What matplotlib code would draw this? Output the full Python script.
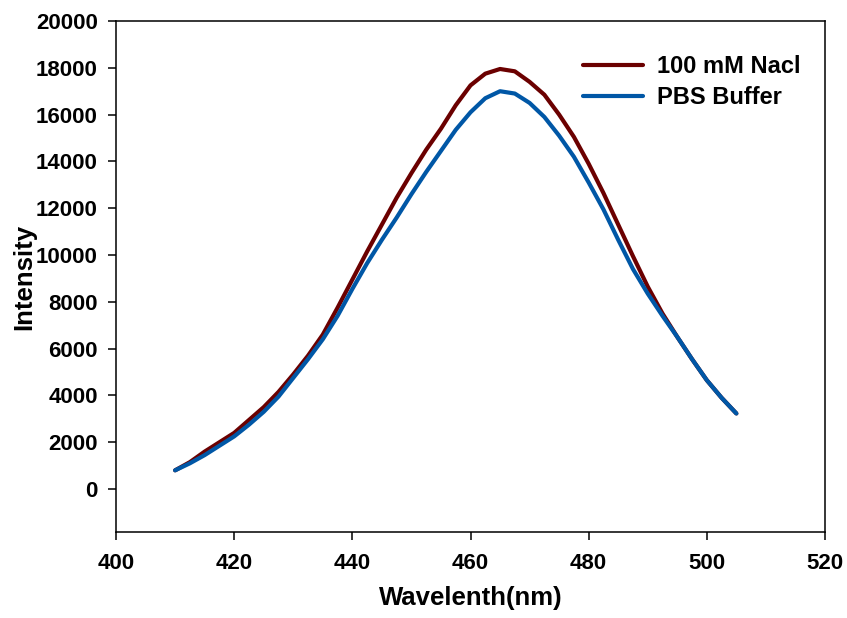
import numpy as np
import matplotlib
matplotlib.use("Agg")
import matplotlib.pyplot as plt

plt.rcParams['font.family'] = ['Liberation Sans', 'DejaVu Sans']
plt.rcParams['font.weight'] = 'bold'

# Emission spectra
wavelength = [410, 412.5, 415, 417.5, 420, 422.5, 425, 427.5, 430, 432.5, 435, 437.5,
              440, 442.5, 445, 447.5, 450, 452.5, 455, 457.5, 460, 462.5, 465, 467.5,
              470, 472.5, 475, 477.5, 480, 482.5, 485, 487.5, 490, 492.5, 495, 497.5,
              500, 502.5, 505]
nacl = [800, 1150, 1600, 2000, 2400, 2950, 3500, 4150, 4900, 5700, 6600, 7750,
        8950, 10150, 11300, 12450, 13500, 14500, 15400, 16400, 17250, 17750, 17950, 17850,
        17400, 16850, 16000, 15050, 13900, 12650, 11300, 9950, 8650, 7500, 6500, 5550,
        4650, 3900, 3230]
pbs = [800, 1100, 1450, 1850, 2250, 2750, 3300, 3950, 4750, 5550, 6400, 7400,
       8550, 9650, 10650, 11600, 12600, 13550, 14450, 15350, 16100, 16700, 17000, 16900,
       16500, 15900, 15100, 14200, 13100, 11950, 10650, 9400, 8350, 7400, 6500, 5550,
       4650, 3900, 3230]

fig = plt.figure(figsize=(8.47, 6.18), dpi=100)
ax = fig.add_axes([0.137, 0.139, 0.837, 0.827])

ax.plot(wavelength, nacl, color='#6b0000', lw=3, label='100 mM Nacl',
        solid_capstyle='round', solid_joinstyle='round')
ax.plot(wavelength, pbs, color='#0057a6', lw=3, label='PBS Buffer',
        solid_capstyle='round', solid_joinstyle='round')

ax.set_xlim(400, 520)
ax.set_ylim(-1840, 20000)
ax.set_xticks(np.arange(400, 521, 20))
ax.set_yticks(np.arange(0, 20001, 2000))
ax.tick_params(direction='out', length=6, width=1.1, labelsize=16,
               top=False, right=False)
ax.tick_params(axis='x', pad=9)
ax.tick_params(axis='y', pad=7)
for lbl in ax.get_xticklabels() + ax.get_yticklabels():
    lbl.set_fontweight('bold')
for s in ax.spines.values():
    s.set_linewidth(1.1)

ax.set_xlabel('Wavelenth(nm)', fontsize=18.5, fontweight='bold', labelpad=9)
ax.set_ylabel('Intensity', fontsize=18.5, fontweight='bold', labelpad=0)

ax.legend(loc='upper right', bbox_to_anchor=(0.995, 0.975), frameon=False,
          fontsize=17, handlelength=2.5, handletextpad=0.6, labelspacing=0.35)

fig.savefig('out.png', dpi=100)
